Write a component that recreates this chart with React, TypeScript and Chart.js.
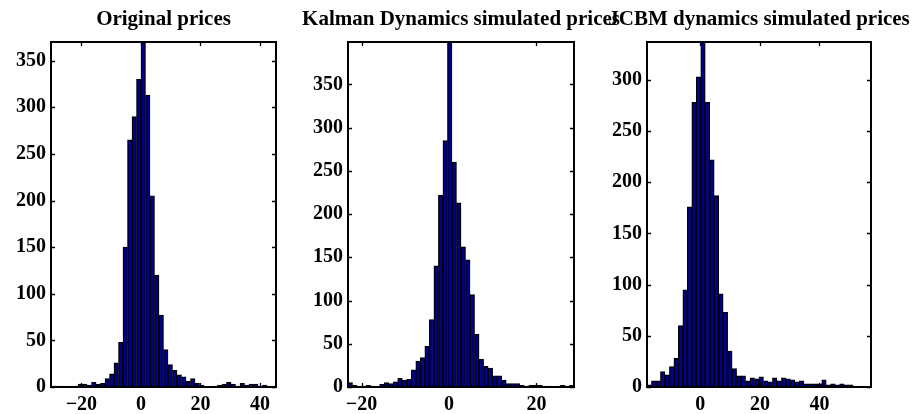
import React, { useEffect, useRef } from "react";
import { Chart, registerables } from "chart.js";

Chart.register(...registerables);

// ---------- DATA ----------
const origTitle = "Original prices";
const kalmanTitle = "Kalman Dynamics simulated prices";
const jcbmTitle = "JCBM dynamics simulated prices";

// histogram counts (50 bins each)
const origCounts = [
  1, 1, 1, 0, 1, 1, 3, 3, 2, 5, 3, 4, 9, 14, 26, 48, 150, 265, 290, 330,
  370,
  313, 205, 120, 77, 40, 24, 18, 13, 11, 6, 9, 4, 2, 0, 0, 1, 2, 3, 5, 3, 1, 4, 2, 3, 3, 1, 2, 0, 1,
];
const kalmanCounts = [
  5, 2, 1, 1, 2, 1, 0, 3, 5, 4, 6, 10, 8, 9, 20, 30, 34, 47, 78, 140, 222, 285,
  399,
  260, 213, 162, 147, 107, 61, 32, 24, 22, 13, 13, 8, 4, 4, 4, 2, 1, 2, 2, 2, 1, 1, 0, 1, 2, 1, 2,
];
const jcbmCounts = [
  2, 6, 6, 15, 12, 20, 28, 60, 95, 176, 278, 303,
  337,
  278, 222, 187, 91, 73, 35, 18, 11, 11, 6, 9, 8, 10, 6, 5, 9, 6, 9, 8, 7, 5, 6, 3, 3, 3, 3, 7, 2, 3, 2, 3, 2, 2, 1, 0, 0, 0,
];

// data ranges (bin edges span the full x range)
const origXRange = [-30.2, 45.4];
const kalmanXRange = [-23.1, 28.6];
const jcbmXRange = [-17.9, 57.3];

const origYMax = 370;
const kalmanYMax = 399;
const jcbmYMax = 337;

const origXTicks = [-20, 0, 20, 40];
const kalmanXTicks = [-20, 0, 20];
const jcbmXTicks = [0, 20, 40];

const origYTicks = [0, 50, 100, 150, 200, 250, 300, 350];
const kalmanYTicks = [0, 50, 100, 150, 200, 250, 300, 350];
const jcbmYTicks = [0, 50, 100, 150, 200, 250, 300];

// ---------- LAYOUT ----------
const FONT_FAMILY = "'Liberation Serif', 'Times New Roman', Times, serif";
const MARGIN = 60;
const H = 414;
const X_AXIS_H = 27;

const framePlugin = {
  id: "matlabFrame",
  afterDatasetsDraw(chart: any) {
    const { ctx, chartArea: a, scales } = chart;
    const tl = 4;
    ctx.save();
    ctx.strokeStyle = "#000";
    ctx.lineWidth = 1.3;
    ctx.beginPath();
    scales.x.ticks.forEach((t: any) => {
      const px = Math.round(scales.x.getPixelForValue(t.value)) + 0.5;
      ctx.moveTo(px, a.bottom);
      ctx.lineTo(px, a.bottom - tl);
      ctx.moveTo(px, a.top);
      ctx.lineTo(px, a.top + tl);
    });
    scales.y.ticks.forEach((t: any) => {
      const py = Math.round(scales.y.getPixelForValue(t.value)) + 0.5;
      ctx.moveTo(a.left, py);
      ctx.lineTo(a.left + tl, py);
      ctx.moveTo(a.right, py);
      ctx.lineTo(a.right - tl, py);
    });
    ctx.stroke();
    ctx.lineWidth = 2;
    ctx.strokeRect(a.left, a.top, a.right - a.left, a.bottom - a.top);
    ctx.restore();
  },
};

type PanelProps = {
  title: string;
  counts: number[];
  xRange: number[];
  yMax: number;
  xTicks: number[];
  yTicks: number[];
  plotLeft: number;
  plotWidth: number;
};

function Panel(p: PanelProps) {
  const ref = useRef<HTMLCanvasElement | null>(null);
  const width = p.plotWidth + 2 * MARGIN;

  useEffect(() => {
    if (!ref.current) return;
    const [lo, hi] = p.xRange;
    const w = (hi - lo) / p.counts.length;
    const pts = p.counts.map((c, i) => ({ x: lo + (i + 0.5) * w, y: c }));
    const tickFont = { family: FONT_FAMILY, size: 20, weight: "bold" as const, lineHeight: 1.2 };

    const chart = new Chart(ref.current, {
      type: "bar",
      data: {
        datasets: [
          {
            data: pts as any,
            backgroundColor: "#00008f",
            borderColor: "#000000",
            borderWidth: 1.3,
            barPercentage: 1,
            categoryPercentage: 1,
          },
        ],
      },
      options: {
        responsive: false,
        animation: false,
        devicePixelRatio: 1,
        layout: { padding: 0 },
        plugins: {
          legend: { display: false },
          tooltip: { enabled: false },
          title: {
            display: true,
            text: p.title,
            color: "#000",
            font: { family: FONT_FAMILY, size: 21, weight: "bold", lineHeight: 1.2 },
            padding: { top: 7.4, bottom: 9.4 },
          },
        },
        scales: {
          x: {
            type: "linear",
            min: lo,
            max: hi,
            offset: false,
            grid: { display: false, drawTicks: false, offset: false },
            border: { display: false },
            afterBuildTicks: (s: any) => {
              s.ticks = p.xTicks.map((v) => ({ value: v }));
            },
            afterFit: (s: any) => {
              s.height = X_AXIS_H;
            },
            ticks: {
              color: "#000",
              font: tickFont,
              padding: 6,
              maxRotation: 0,
              autoSkip: false,
              callback: (v: any) => String(v).replace("-", "\u2212"),
            },
          },
          y: {
            type: "linear",
            position: "left",
            min: 0,
            max: p.yMax,
            grid: { display: false, drawTicks: false },
            border: { display: false },
            afterBuildTicks: (s: any) => {
              s.ticks = p.yTicks.map((v) => ({ value: v }));
            },
            afterFit: (s: any) => {
              s.width = MARGIN;
            },
            ticks: {
              color: "#000",
              font: tickFont,
              padding: 5,
              autoSkip: false,
            },
          },
          yRight: {
            type: "linear",
            position: "right",
            min: 0,
            max: p.yMax,
            grid: { display: false, drawTicks: false },
            border: { display: false },
            ticks: { display: false },
            afterFit: (s: any) => {
              s.width = MARGIN;
            },
          },
        },
      } as any,
      plugins: [framePlugin],
    });
    return () => chart.destroy();
  }, []);

  return (
    <canvas
      ref={ref}
      width={width}
      height={H}
      style={{ position: "absolute", left: p.plotLeft - MARGIN, top: 0, width, height: H }}
    />
  );
}

export default function App() {
  return (
    <div
      style={{
        position: "fixed",
        left: 0,
        top: 0,
        width: 915,
        height: 414,
        overflow: "hidden",
        background: "#fff",
      }}
    >
      <Panel
        title={origTitle}
        counts={origCounts}
        xRange={origXRange}
        yMax={origYMax}
        xTicks={origXTicks}
        yTicks={origYTicks}
        plotLeft={51}
        plotWidth={225}
      />
      <Panel
        title={kalmanTitle}
        counts={kalmanCounts}
        xRange={kalmanXRange}
        yMax={kalmanYMax}
        xTicks={kalmanXTicks}
        yTicks={kalmanYTicks}
        plotLeft={348}
        plotWidth={226}
      />
      <Panel
        title={jcbmTitle}
        counts={jcbmCounts}
        xRange={jcbmXRange}
        yMax={jcbmYMax}
        xTicks={jcbmXTicks}
        yTicks={jcbmYTicks}
        plotLeft={647}
        plotWidth={224}
      />
    </div>
  );
}
